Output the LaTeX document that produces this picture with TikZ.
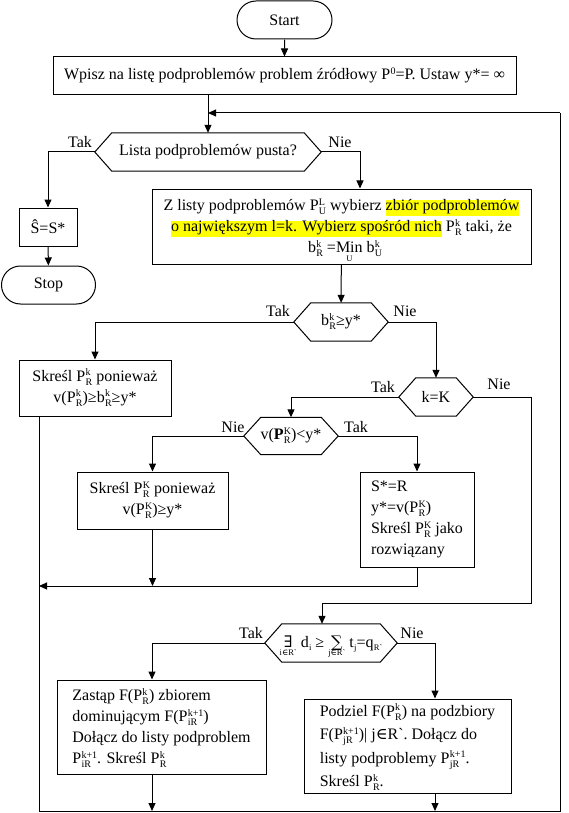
\documentclass[tikz,border=0pt]{standalone}
\usepackage{fontspec}
\setmainfont{Liberation Serif}
\newfontfamily\symf{DejaVu Serif}
\usetikzlibrary{arrows.meta,shapes.misc}
\definecolor{hlyellow}{RGB}{255,255,0}
\newsavebox\supb
\newsavebox\subb
\newlength\tmpl
\newcommand\ssz{\fontsize{10}{10}\selectfont}
\newcommand\tsz{\fontsize{8.5}{8.5}\selectfont}
\newcommand\sps[2]{\kern0.3pt\sbox\supb{\ssz #1}\sbox\subb{\ssz #2}%
  \rlap{\raisebox{5.5pt}[0pt][0pt]{\usebox\supb}}%
  \rlap{\raisebox{-4pt}[0pt][0pt]{\usebox\subb}}%
  \ifdim\wd\supb>\wd\subb\hspace{\wd\supb}\else\hspace{\wd\subb}\fi}
\newcommand\tsub[1]{\kern0.3pt\raisebox{-3.5pt}[0pt][0pt]{\tsz #1}}
\newcommand\undr[3][9pt]{\sbox\supb{#2}\sbox\subb{\tsz #3}%
  \ifdim\wd\supb>\wd\subb \setlength\tmpl{\wd\supb}\else\setlength\tmpl{\wd\subb}\fi
  \makebox[\tmpl]{\usebox\supb}\llap{\makebox[\tmpl]{\raisebox{-#1}[0pt][0pt]{\usebox\subb}}}}
\newcommand\hl[1]{{\fboxsep=0pt\colorbox{hlyellow}{\rule[-5pt]{0pt}{15pt}#1}}}
\newcommand\hexn[6]{%
  \node[hexin, minimum width=#4pt, minimum height=#5pt] (#1) at (#2,#3) {#6};
  \draw[lw] (#1.west) -- ([xshift=17pt]#1.north west) -- ([xshift=-17pt]#1.north east)
    -- (#1.east) -- ([xshift=-17pt]#1.south east) -- ([xshift=17pt]#1.south west) -- cycle;}
\tikzset{
  lw/.style={line width=1pt},
  box/.style={draw, line width=1pt, rectangle, inner sep=0pt, align=center},
  lbox/.style={draw, line width=1pt, rectangle, inner sep=0pt, align=left},
  term/.style={draw, line width=1pt, rounded rectangle, inner sep=0pt},
  hexin/.style={rectangle, inner sep=0pt, align=center},
  arr/.style={line width=1pt, -{Triangle[length=8pt,width=7pt]}},
  lbl/.style={inner sep=0pt}
}
\begin{document}
\begin{tikzpicture}[x=1pt, y=-1pt, every node/.style={font=\fontsize{16}{21}\selectfont}]
\useasboundingbox[fill=white] (0,0) rectangle (568,813);
% nodes
\node[term, minimum width=95pt, minimum height=38pt] (start) at (284.5,20) {Start};
\node[box, minimum width=463pt, minimum height=38pt] (box1) at (284.5,76)
  {Wpisz na listę podproblemów problem źródłowy P\sps{0}{}=P. Ustaw y*= ∞};
\hexn{hex1}{208}{152}{226}{38}{Lista podproblemów pusta?}
\node[box, minimum width=58pt, minimum height=38pt] (shat) at (48,227) {Ŝ=S*};
\node[term, minimum width=94pt, minimum height=38pt] (stop) at (48.5,285) {Stop};
\node[box, minimum width=379pt, minimum height=75pt] (zbox) at (341.5,226.5)
  {Z listy podproblemów P\sps{L}{U} wybierz \hl{zbiór podproblemów}\\
   \hl{o największym l=k. Wybierz spośród nich} P\sps{k}{R} taki, że\\
   b\sps{k}{R} =\undr{Min}{U} b\sps{k}{U}};
\hexn{hexb}{341}{322}{94}{38}{b\sps{k}{R}≥y*}
\node[box, minimum width=152pt, minimum height=56pt] (skr1) at (95,388)
  {Skreśl P\sps{k}{R} ponieważ\\ v(P\sps{k}{R})≥b\sps{k}{R}≥y*};
\hexn{kk}{436}{397}{74}{38}{k=K}
\hexn{hexv}{291}{436}{94}{37}{v(\textbf{P}\sps{K}{R})<y*}
\node[box, minimum width=151pt, minimum height=57pt] (skr2) at (152.5,500.5)
  {Skreśl P\sps{K}{R} ponieważ\\ v(P\sps{K}{R})≥y*};
\node[lbox, minimum width=114pt, minimum height=95pt] (sr) at (417,519.5)
  {S*=R\\ y*=v(P\sps{K}{R})\\ Skreśl P\sps{K}{R} jako\\ rozwiązany};
\hexn{hexE}{331}{643}{132}{38}{\undr[8pt]{{\symf ∃}}{i{\symf ∈}R\textasciigrave} d\tsub{i} ≥ \undr[8pt]{{\symf ∑}}{j{\symf ∈}R\textasciigrave} t\tsub{j}=q\tsub{R\textasciigrave}}
\node[lbox, minimum width=209pt, minimum height=94pt] (zast) at (161.5,727)
  {Zastąp F(P\sps{k}{R}) zbiorem\\ dominującym F(P\sps{k+1}{iR})\\ Dołącz do listy podproblem\\ P\sps{k+1}{iR}. Skreśl P\sps{k}{R}};
\node[lbox, minimum width=207pt, minimum height=94pt, font=\fontsize{16}{23.5}\selectfont] (podz) at (407.5,746)
  {Podziel F(P\sps{k}{R}) na podzbiory\\ F(P\sps{k+1}{jR})| j{\symf ∈}R\textasciigrave. Dołącz do\\ listy podproblemy P\sps{k+1}{jR}.\\ Skreśl P\sps{k}{R}.};
% labels
\node[lbl] (t1) at (80,142) {Tak};
\node[lbl] (n1) at (340,142) {Nie};
\node[lbl] (t2) at (278,311) {Tak};
\node[lbl] (n2) at (405,311) {Nie};
\node[lbl] (t3) at (383,387) {Tak};
\node[lbl] (n3) at (499,384) {Nie};
\node[lbl] (n4) at (233,427) {Nie};
\node[lbl] (t4) at (356,427) {Tak};
\node[lbl] (t5) at (251,633) {Tak};
\node[lbl] (n5) at (412,633) {Nie};
% helper coordinates
\coordinate (L) at (39,811);
\coordinate (R) at (560,811);
\coordinate (T) at (560,113);
\coordinate (J) at (208,113);
\coordinate (xN) at (360,0);
\coordinate (J2) at (0,586);
\coordinate (k1) at (531,603);
\coordinate (k2) at (322,603);
\coordinate (xz) at (152,0);
\coordinate (xp) at (435,0);
% connectors
\draw[arr] (start) -- (box1);
\draw[arr] (box1.south -| hex1.north) -- (hex1.north);
\draw[lw] (skr1.south -| L) -- (L) -- (R) -- (T);
\draw[arr] (T) -- (J);
\draw[arr] (hex1.west) -| (shat.north);
\draw[arr] (shat) -- (stop);
\draw[arr] (hex1.east) -| (xN |- zbox.north);
\draw[arr] (zbox) -- (hexb);
\draw[arr] (hexb.west) -| (skr1.north);
\draw[arr] (hexb.east) -| (kk.north);
\draw[arr] (kk.west) -| (hexv.north);
\draw[arr] (hexv.west) -| (skr2.north);
\draw[arr] (hexv.east) -| (sr.north);
\draw[arr] (skr2.south) -- (skr2.south |- J2);
\draw[arr] (sr.south) -- (sr.south |- J2) -- (L |- J2);
\draw[arr] (kk.east) -| (k1) -- (k2) -- (k2 |- hexE.north);
\draw[arr] (hexE.west) -| (xz |- zast.north);
\draw[arr] (hexE.east) -| (xp |- podz.north);
\draw[arr] (xz |- zast.south) -- (xz |- L);
\draw[arr] (xp |- podz.south) -- (xp |- L);
\end{tikzpicture}
\end{document}
